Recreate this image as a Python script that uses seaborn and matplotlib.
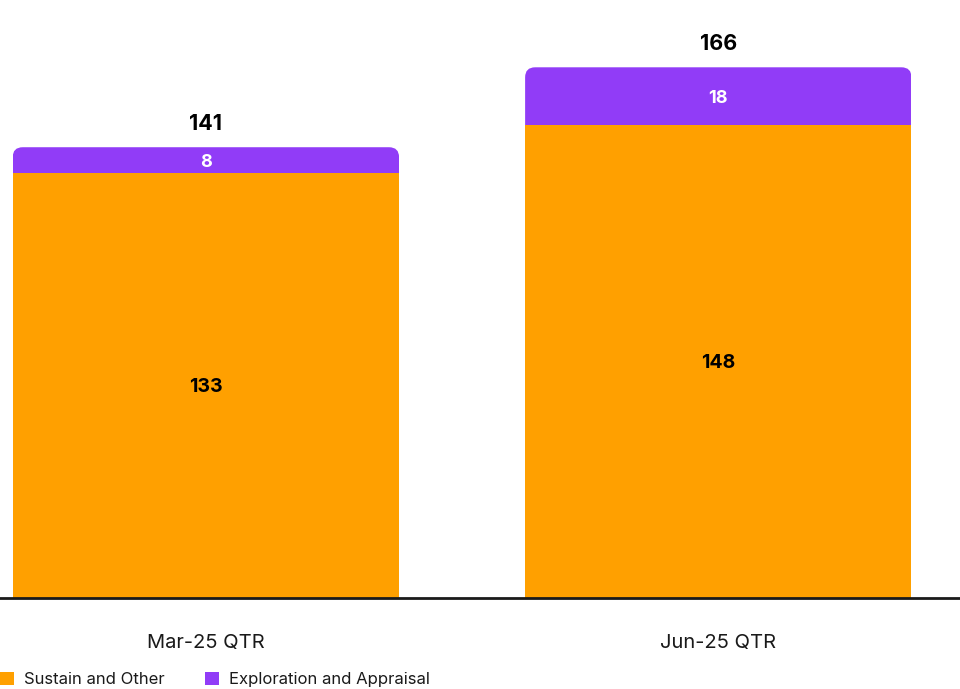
import matplotlib
matplotlib.use("Agg")
import matplotlib.pyplot as plt
from matplotlib.patches import FancyBboxPatch, Patch, Rectangle
import seaborn as sns
import pandas as pd

quarters = ["Mar-25 QTR", "Jun-25 QTR"]
sustain = [133, 148]
exploration = [8, 18]
totals = [s + e for s, e in zip(sustain, exploration)]

ORANGE = "#FFA000"
PURPLE = "#913CF7"
FONT = "Inter"

sns.set_theme(style="white")
plt.rcParams["font.family"] = [FONT, "DejaVu Sans"]

df = pd.DataFrame({"quarter": quarters, "sustain": sustain,
                   "exploration": exploration, "total": totals})

fig = plt.figure(figsize=(9.6, 6.89), dpi=100)
ax = fig.add_axes([0, 91 / 689, 1, 598 / 689])

bar_w = 0.754
# full-height bars (purple) first; the orange part sits in front of them
sns.barplot(data=df, x="quarter", y="total", color=PURPLE, width=bar_w,
            saturation=1, ax=ax, zorder=2, edgecolor="none", linewidth=0)
sns.barplot(data=df, x="quarter", y="sustain", color=ORANGE, width=bar_w,
            saturation=1, ax=ax, zorder=3, edgecolor="none", linewidth=0)

ax.set_xlim(-0.4018, 1.4717)
ax.set_ylim(0, 187.05)

# swap the purple rectangles for ones with rounded top corners,
# clipped so that only the segment above the orange part is painted
fig.canvas.draw()
px_x = ax.transData.transform((1, 0))[0] - ax.transData.transform((0, 0))[0]
px_y = ax.transData.transform((0, 1))[1] - ax.transData.transform((0, 0))[1]
radius_px = 10
r_x = radius_px / px_x
r_y = radius_px / px_y
aspect = r_y / r_x
purple_bars = list(ax.patches[:len(quarters)])
orange_bars = list(ax.patches[len(quarters):])
for p, o in zip(purple_bars, orange_bars):
    x0, w, top = p.get_x(), p.get_width(), p.get_height()
    seg_bottom = o.get_height()
    y0 = seg_bottom - 2 * r_y
    p.remove()
    rounded = FancyBboxPatch((x0, y0), w, top - y0,
                             boxstyle=f"round,pad=0,rounding_size={r_x}",
                             mutation_aspect=aspect, facecolor=PURPLE,
                             edgecolor="none", linewidth=0, zorder=2)
    ax.add_patch(rounded)
    clip = Rectangle((x0, seg_bottom), w, top - seg_bottom + 1,
                     transform=ax.transData)
    rounded.set_clip_path(clip)

for i in range(len(quarters)):
    ax.annotate(f"{totals[i]}", (i, totals[i]), xytext=(0, 18),
                textcoords="offset points", ha="center",
                va="center_baseline", fontsize=15.5, fontweight="bold",
                color="black")
    ax.text(i, sustain[i] + exploration[i] / 2, f"{exploration[i]}",
            ha="center", va="center_baseline", fontsize=13,
            fontweight="bold", color="white", zorder=5)
    ax.text(i, sustain[i] / 2, f"{sustain[i]}", ha="center",
            va="center_baseline", fontsize=14, fontweight="bold",
            color="black", zorder=5)

for side in ["top", "right", "left"]:
    ax.spines[side].set_visible(False)
ax.spines["bottom"].set_color("#1a1a1a")
ax.spines["bottom"].set_linewidth(2)
ax.spines["bottom"].set_zorder(6)
ax.set_yticks([])
ax.set_xlabel("")
ax.set_ylabel("")
ax.tick_params(axis="x", length=0, pad=26, labelsize=14.5, labelcolor="#1a1a1a")

handles = [Patch(facecolor=ORANGE, edgecolor="none", label="Sustain and Other"),
           Patch(facecolor=PURPLE, edgecolor="none", label="Exploration and Appraisal")]
fig.legend(handles=handles, loc="lower left", bbox_to_anchor=(0, 0.003),
           ncol=2, frameon=False, fontsize=12, handlelength=0.85,
           handleheight=0.85, handletextpad=0.6, columnspacing=2.4,
           borderpad=0, borderaxespad=0, labelcolor="#1a1a1a")

fig.savefig("out.png", dpi=100)
